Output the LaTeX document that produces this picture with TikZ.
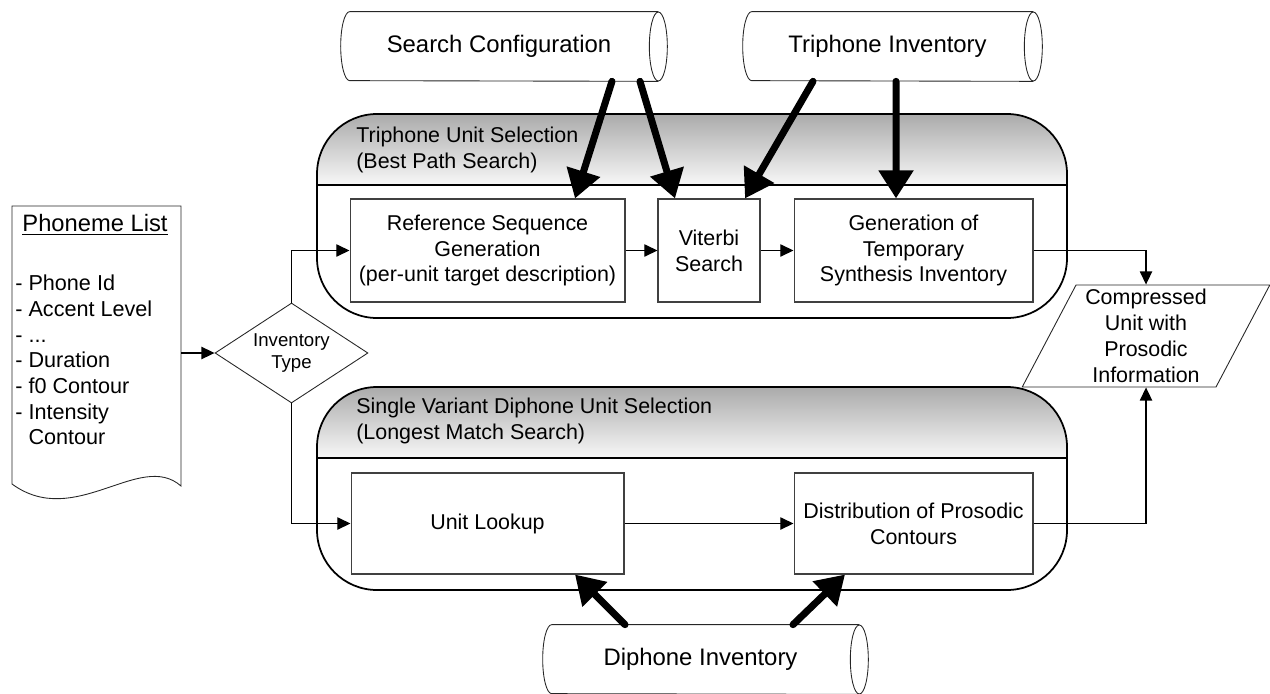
\documentclass[tikz,border=0pt]{standalone}
\usepackage{fontspec}
\setmainfont{Liberation Sans}
\usetikzlibrary{shapes.geometric,arrows.meta}
\newcommand{\drawcyl}[1]{%
  \draw[cylline] ([xshift=-0.18cm]#1.north east) -- ([xshift=0.18cm]#1.north west)
    arc[start angle=90, end angle=270, x radius=0.18cm, y radius=0.69cm]
    -- ([xshift=-0.18cm]#1.south east);
  \draw[cylline] ([xshift=-0.18cm]#1.east) ellipse[x radius=0.18cm, y radius=0.69cm];}
\begin{document}
\begin{tikzpicture}[x=0.02cm,y=-0.02cm,
  txt/.style={font=\fontsize{12.2pt}{14.7pt}\selectfont},
  procbox/.style={txt, draw=black!75, line width=0.6pt, fill=white, align=center, inner sep=0pt, minimum height=2.06cm},
  store/.style={rectangle, draw=none, minimum width=6.52cm, minimum height=1.38cm, inner sep=0pt, font=\fontsize{13.6pt}{16pt}\selectfont},
  cylline/.style={draw=black!85, line width=0.5pt},
  arr/.style={line width=0.75pt, -{Triangle[length=7.5pt,width=7pt]}},
  fat/.style={line width=4pt, line cap=round, -{Triangle[length=16pt,width=19pt]}},
  grp/.style={line width=1pt, rounded corners=1.2cm},
  hdr/.style={top color=black!33, bottom color=black!3},
]
\useasboundingbox (0,0) rectangle (1270,693);

% ---------- groups ----------
\begin{scope}
  \clip[rounded corners=1.2cm] (317,114) rectangle (1067,318);
  \shade[hdr] (317,114) rectangle (1067,185);
\end{scope}
\draw[grp] (317,114) rectangle (1067,318);
\draw[line width=1pt] (317,185) -- (1067,185);
\node[txt, anchor=west, align=left, inner sep=0pt] (t1) at (356,150) {Triphone Unit Selection\\(Best Path Search)};

\begin{scope}
  \clip[rounded corners=1.2cm] (317,387) rectangle (1067,590);
  \shade[hdr] (317,387) rectangle (1067,458);
\end{scope}
\draw[grp] (317,387) rectangle (1067,590);
\draw[line width=1pt] (317,458) -- (1067,458);
\node[txt, anchor=west, align=left, inner sep=0pt] (t2) at (356,421) {Single Variant Diphone Unit Selection\\(Longest Match Search)};

% ---------- phoneme list document ----------
\draw[line width=0.5pt, draw=black!85, fill=white] (12,206) -- (181,206) -- (181,486)
  .. controls (140,450) and (75,530) .. (12,484) -- cycle;
\coordinate (phonout) at (181,353);
\node[font=\fontsize{13.5pt}{16pt}\selectfont, inner sep=0pt] (plt) at (95,225) {\underline{Phoneme List}};
\node[font=\fontsize{12.3pt}{14.6pt}\selectfont, anchor=west, align=left, inner sep=0pt] (pli) at (15,360)
  {- Phone Id\\- Accent Level\\- ...\\- Duration\\- f0 Contour\\- Intensity\\\phantom{- }Contour};

% ---------- decision ----------
\node[shape=diamond, aspect=1.53, draw=black!85, line width=0.5pt, fill=white, minimum width=3.06cm, minimum height=2cm,
  inner sep=0pt, align=center, font=\fontsize{10.6pt}{12pt}\selectfont] (inv) at (291.5,353) {Inventory\\Type};

% ---------- process boxes ----------
\node[procbox, minimum width=5.5cm] (ref) at (487.5,250.5) {Reference Sequence\\Generation\\(per-unit target description)};
\node[procbox, minimum width=2.04cm] (vit) at (709,250.5) {Viterbi\\Search};
\node[procbox, minimum width=4.78cm] (gen) at (913.5,250.5) {Generation of\\Temporary\\Synthesis Inventory};
\node[procbox, minimum width=5.46cm, minimum height=2.02cm] (ul) at (487.5,523.5) {Unit Lookup};
\node[procbox, minimum width=4.78cm, minimum height=2.02cm] (dist) at (913.5,523.5) {Distribution of Prosodic\\Contours};

% ---------- output ----------
\node[trapezium, trapezium left angle=63.4, trapezium right angle=116.6, trapezium stretches=true,
  draw=black!85, line width=0.5pt, fill=white, minimum width=4.96cm, minimum height=2.04cm,
  inner sep=0pt, align=center, txt] (cu) at (1146,336) {Compressed\\Unit with\\Prosodic\\Information};

% ---------- stores ----------
\node[store] (sc) at (504,46.5) {\hspace*{-0.2cm}Search Configuration};
\node[store, minimum width=5.98cm] (ti) at (892.5,46.5) {\hspace*{-0.2cm}Triphone Inventory};
\node[store, minimum width=6.5cm] (di) at (705.5,659.5) {\hspace*{-0.2cm}Diphone Inventory};
\drawcyl{sc}
\drawcyl{ti}
\drawcyl{di}

% ---------- thin connectors ----------
\draw[arr] (phonout) -- (inv.west);
\draw[arr] (inv.north) |- (ref.west);
\draw[arr] (inv.south) |- (ul.west);
\draw[arr] (ref.east) -- (vit.west);
\draw[arr] (vit.east) -- (gen.west);
\draw[arr] (gen.east) -| (cu.north);
\draw[arr] (ul.east) -- (dist.west);
\draw[arr] (dist.east) -| (cu.south);

% ---------- thick data connectors ----------
\draw[fat] ([xshift=2.16cm]sc.south) -- ([xshift=1.75cm]ref.north);
\draw[fat] ([xshift=2.72cm]sc.south) -- ([xshift=-0.68cm]vit.north);
\draw[fat] ([xshift=-1.59cm]ti.south) -- ([xshift=0.72cm]vit.north);
\draw[fat] ([xshift=0.07cm]ti.south) -- ([xshift=-0.35cm]gen.north);
\draw[fat] ([xshift=-1.61cm]di.north) -- ([xshift=1.75cm]ul.south);
\draw[fat] ([xshift=1.75cm]di.north) -- ([xshift=-1.37cm]dist.south);
\end{tikzpicture}
\end{document}
